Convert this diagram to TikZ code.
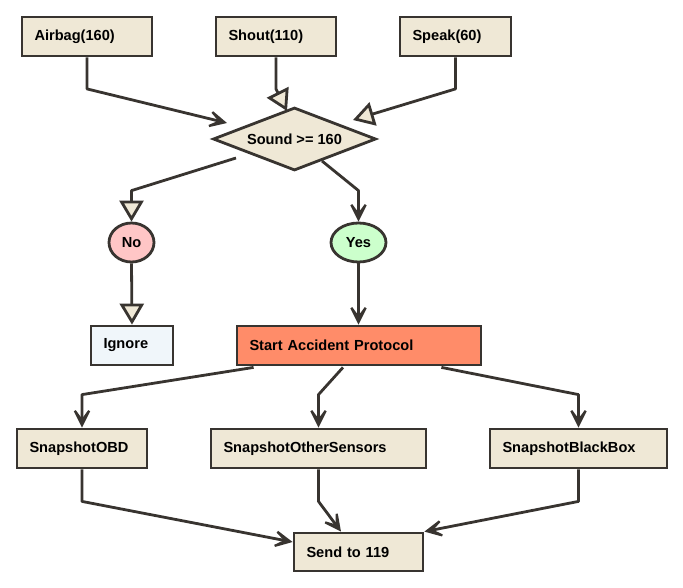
\documentclass[tikz,border=0pt]{standalone}
\usepackage{fontspec}
\setmainfont{Liberation Sans}
\usetikzlibrary{shapes.geometric,arrows.meta,calc}
\definecolor{linecol}{RGB}{56,52,48}
\definecolor{beigecol}{RGB}{239,232,214}
\definecolor{nocol}{RGB}{255,198,198}
\definecolor{yescol}{RGB}{204,255,204}
\definecolor{ignorecol}{RGB}{240,246,250}
\definecolor{startcol}{RGB}{255,140,105}
\tikzset{
  actbox/.style={draw=linecol, line width=2.8pt, fill=beigecol, inner xsep=12.5pt, inner ysep=0pt,
    minimum height=39pt, align=left, font=\fontsize{14.6}{17}\selectfont\bfseries},
  choice/.style={draw=linecol, line width=2.8pt, ellipse, inner sep=0pt, minimum height=39pt,
    font=\fontsize{14.6}{17}\selectfont\bfseries},
  cond/.style={draw=linecol, line width=2.8pt, fill=beigecol, diamond, aspect=2.59, inner sep=0pt,
    minimum width=163pt, minimum height=63pt, font=\fontsize{14.6}{17}\selectfont\bfseries},
  conn/.style={draw=linecol, line width=2.8pt, line join=round},
  barb/.style={conn, arrows={-Stealth[length=28pt,width=28pt,inset=19pt]}},
  tri/.style={conn, arrows={-Triangle[length=21pt,width=24pt,fill=beigecol]}}
}
\begin{document}
\begin{tikzpicture}[x=1pt,y=-1pt]
\useasboundingbox (0,0) rectangle (683,587);
% nodes
\node[actbox, text width=105pt] (airbag) at (87,36.5) {Airbag(160)};
\node[actbox, text width=95pt] (shout) at (276,36.5) {Shout(110)};
\node[actbox, text width=86pt] (speak) at (455.5,36.5) {Speak(60)};
\node[cond] (dia) at (294.5,139) {Sound >= 160};
\node[choice, fill=nocol, minimum width=45pt] (no) at (131.5,242.5) {No};
\node[choice, fill=yescol, minimum width=55pt] (yes) at (358.5,242.5) {Yes};
\node[actbox, fill=ignorecol, text width=57pt] (ignore) at (132,345.5) {Ignore};
\node[actbox, fill=startcol, text width=219pt] (start) at (359,345.5) {Start Accident Protocol};
\node[actbox, text width=105pt] (obd) at (82,448.5) {SnapshotOBD};
\node[actbox, text width=190pt] (other) at (318.5,448.5) {SnapshotOtherSensors};
\node[actbox, text width=152pt] (bbox) at (578.5,448.5) {SnapshotBlackBox};
\node[actbox, text width=104pt, minimum height=38pt] (send) at (358.5,552) {Send to 119};
% connectors
\draw[barb] (airbag.south) -- ++(0,31.5) -- ($(dia)+(-67.5,-16)$);
\draw[tri] (shout.south) -- ++(0,31.5) -- ($(dia)+(-7.5,-28)$);
\draw[tri] (speak.south) -- ++(0,31.5) -- ($(dia)+(58.5,-19)$);
\draw[tri] ($(dia)+(-58.5,19)$) -- ($(no.north)+(0,-31)$) -- (no.north);
\draw[barb] ($(dia)+(27.5,22)$) -- ($(yes.north)+(0,-31)$) -- (yes.north);
\draw[tri] (no.south) -- (ignore.north);
\draw[barb] (yes.south) -- (yes.south |- start.north);
\draw[barb] ($(start.south west)+(18,1)$) -- ($(obd.north)+(0,-33)$) -- (obd.north);
\draw[barb] ($(start.south)+(-16,1)$) -- ($(other.north)+(0,-33)$) -- (other.north);
\draw[barb] ($(start.south east)+(-41,1)$) -- ($(bbox.north)+(0,-33)$) -- (bbox.north);
\draw[barb] (obd.south) -- ++(0,32) -- ($(send.west)+(0,-10)$);
\draw[barb] (other.south) -- ++(0,32) -- ($(send.north)+(-17.5,0)$);
\draw[barb] (bbox.south) -- ++(0,32) -- (send.north east);
\end{tikzpicture}
\end{document}
